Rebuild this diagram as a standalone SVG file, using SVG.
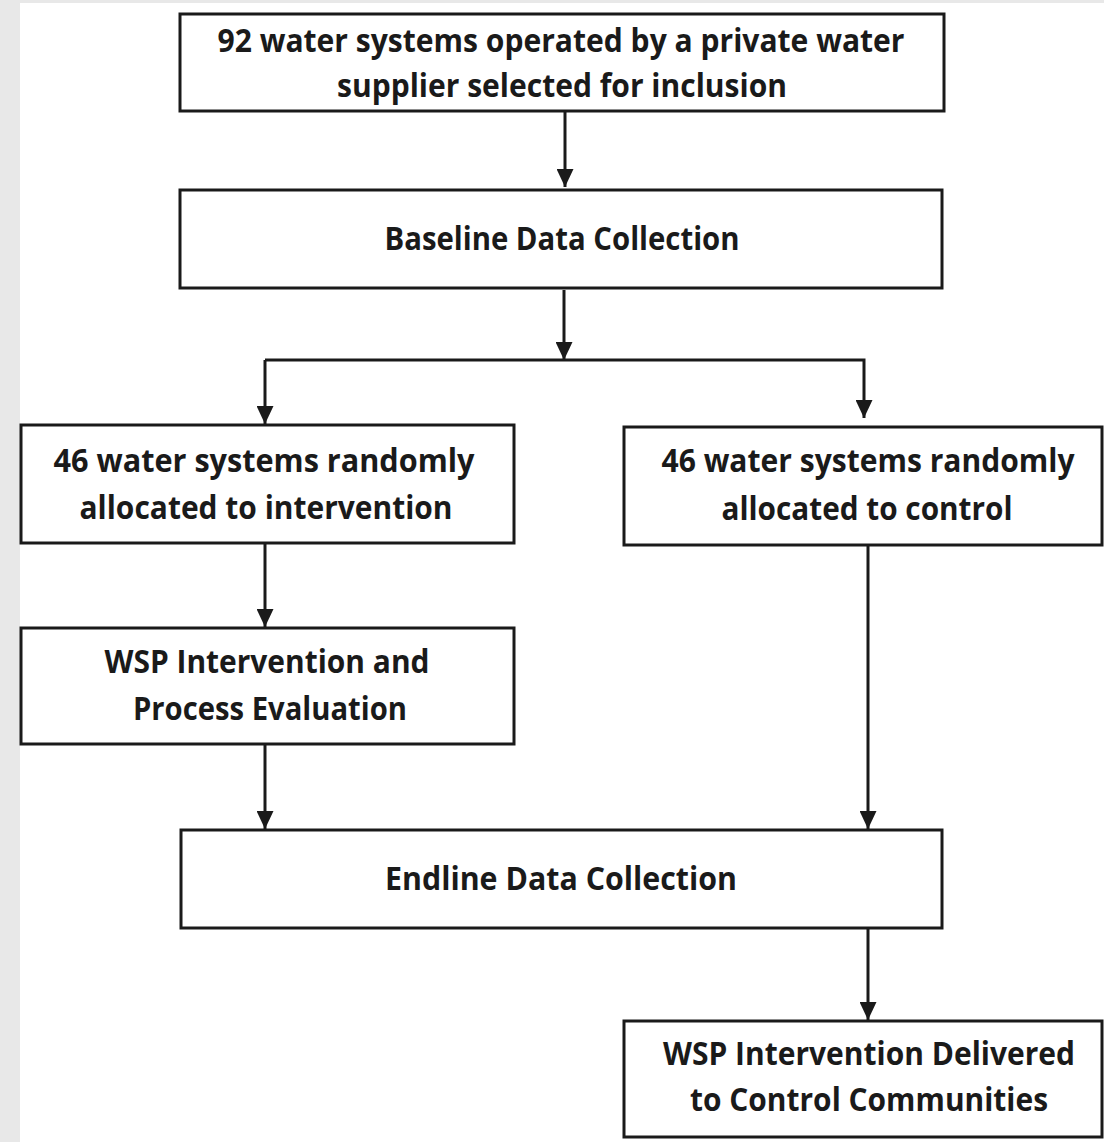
<svg xmlns="http://www.w3.org/2000/svg" width="1104" height="1142" viewBox="0 0 1104 1142">
<defs>
<style>
.box{fill:#fff;stroke:#1a1a1a;stroke-width:3}
.ln{fill:none;stroke:#1a1a1a;stroke-width:3}
text{font-family:"Open Sans","Noto Sans","Liberation Sans",sans-serif;font-weight:700;font-size:32px;fill:#1a1a1a;text-anchor:middle}
</style>
<marker id="ah" viewBox="0 0 10 10" refX="10" refY="5" markerWidth="18" markerHeight="17" markerUnits="userSpaceOnUse" orient="auto" preserveAspectRatio="none">
<path d="M0,0 L10,5 L0,10 Z" fill="#1a1a1a"/>
</marker>
</defs>
<rect x="0" y="0" width="1104" height="1142" fill="#e8e8e8"/>
<rect x="20" y="3" width="1084" height="1139" fill="#fff"/>
<g id="connectors">
<line class="ln" x1="565" y1="112" x2="565" y2="187" marker-end="url(#ah)"/>
<line class="ln" x1="564" y1="290" x2="564" y2="360" marker-end="url(#ah)"/>
<polyline class="ln" points="265,360 864,360 864,418" marker-end="url(#ah)"/>
<line class="ln" x1="265" y1="360" x2="265" y2="424" marker-end="url(#ah)"/>
<line class="ln" x1="265" y1="544" x2="265" y2="627" marker-end="url(#ah)"/>
<line class="ln" x1="265" y1="745" x2="265" y2="829" marker-end="url(#ah)"/>
<line class="ln" x1="868" y1="546" x2="868" y2="829" marker-end="url(#ah)"/>
<line class="ln" x1="868" y1="929" x2="868" y2="1020" marker-end="url(#ah)"/>
</g>
<g id="n1">
<rect class="box" x="180" y="14" width="764" height="97"/>
<text x="561" y="52" textLength="687" lengthAdjust="spacingAndGlyphs">92 water systems operated by a private water</text>
<text x="562" y="97" textLength="450" lengthAdjust="spacingAndGlyphs">supplier selected for inclusion</text>
</g>
<g id="n2">
<rect class="box" x="180" y="190" width="762" height="98"/>
<text x="562" y="250" textLength="355" lengthAdjust="spacingAndGlyphs">Baseline Data Collection</text>
</g>
<g id="n3">
<rect class="box" x="21" y="425" width="493" height="118"/>
<text x="264" y="472" textLength="421" lengthAdjust="spacingAndGlyphs">46 water systems randomly</text>
<text x="266" y="519" textLength="373" lengthAdjust="spacingAndGlyphs">allocated to intervention</text>
</g>
<g id="n4">
<rect class="box" x="624" y="427" width="478" height="118"/>
<text x="868" y="472" textLength="413" lengthAdjust="spacingAndGlyphs">46 water systems randomly</text>
<text x="867" y="520" textLength="291" lengthAdjust="spacingAndGlyphs">allocated to control</text>
</g>
<g id="n5">
<rect class="box" x="21" y="628" width="493" height="116"/>
<text x="267" y="673" textLength="325" lengthAdjust="spacingAndGlyphs">WSP Intervention and</text>
<text x="270" y="720" textLength="274" lengthAdjust="spacingAndGlyphs">Process Evaluation</text>
</g>
<g id="n6">
<rect class="box" x="181" y="830" width="761" height="98"/>
<text x="561" y="890" textLength="352" lengthAdjust="spacingAndGlyphs">Endline Data Collection</text>
</g>
<g id="n7">
<rect class="box" x="624" y="1021" width="478" height="116"/>
<text x="869" y="1065" textLength="412" lengthAdjust="spacingAndGlyphs">WSP Intervention Delivered</text>
<text x="869" y="1111" textLength="358" lengthAdjust="spacingAndGlyphs">to Control Communities</text>
</g>
</svg>
